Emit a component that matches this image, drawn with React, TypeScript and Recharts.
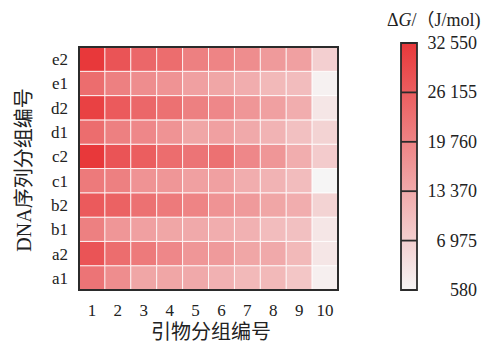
import { Bar, BarChart, Cell, ReferenceLine, XAxis, YAxis } from 'recharts';

// primer groups along x, DNA groups along y (bottom -> top)
const primers = ['1', '2', '3', '4', '5', '6', '7', '8', '9', '10'];
const groups = ['a1', 'a2', 'b1', 'b2', 'c1', 'c2', 'd1', 'd2', 'e1', 'e2'];

// ΔG (J/mol) per primer group, one array per DNA group
const a1 = [22320, 18160, 14010, 14010, 13370, 12090, 10810, 10810, 8570, 1540];
const a2 = [27750, 23600, 21360, 19120, 16570, 15930, 14010, 13370, 10810, 3140];
const b1 = [20400, 16570, 14970, 14010, 13370, 12730, 12090, 10170, 9530, 3140];
const b2 = [26800, 25520, 22960, 21360, 19760, 17200, 15930, 14010, 12730, 6330];
const c1 = [21360, 20400, 17200, 16570, 14970, 14970, 12730, 11770, 10170, 580];
const c2 = [32550, 27750, 26160, 23600, 22320, 22960, 19120, 16570, 12730, 7610];
const d1 = [23600, 20400, 19120, 17200, 14010, 14970, 13370, 11770, 9530, 6330];
const d2 = [30950, 26800, 24560, 22960, 20400, 19120, 16570, 14970, 12730, 3140];
const e1 = [23600, 20400, 18160, 17200, 14970, 14010, 12730, 10810, 10170, 1220];
const e2 = [32550, 27750, 24560, 23600, 20400, 19760, 18160, 15930, 14970, 6970];

const values: Record<string, number[]> = { a1, a2, b1, b2, c1, c2, d1, d2, e1, e2 };

const scaleTicks = [580, 6975, 13370, 19760, 26155, 32550];
const vMin = 580;
const vMax = 32550;

const serif = '"Liberation Serif", "DejaVu Serif", serif';
const cjk = '"Liberation Serif", "Noto Sans CJK SC", sans-serif';
const ink = '#2b2b2b';

const low = [246, 245, 245];
const high = [232, 56, 58];

function colorFor(v: number) {
  const t = Math.max(0, Math.min(1, (v - vMin) / (vMax - vMin)));
  const c = low.map((l, i) => Math.round(l + (high[i] - l) * t));
  return `rgb(${c[0]},${c[1]},${c[2]})`;
}

// each cell is one unit high in the stacked column
const table = primers.map((p) => {
  const row: Record<string, string | number> = { primer: p };
  groups.forEach((g) => (row[g] = 1));
  return row;
});

const fmt = (v: number) => String(v).replace(/\B(?=(\d{3})+(?!\d))/g, ' ');

const ScaleTick = (props: any) => {
  const { x, y, payload } = props;
  return (
    <text x={x + 52} y={y} textAnchor="end" dominantBaseline="central" fontSize={18} fill="#222" fontFamily={serif}>
      {fmt(payload.value)}
    </text>
  );
};

const tickStyle = { fontSize: 17, fill: '#222', fontFamily: serif };

export default function App() {
  return (
    <div style={{ position: 'absolute', left: 0, top: 0, width: 483, height: 343, background: '#fff' }}>
      <BarChart
        width={483}
        height={343}
        data={table}
        margin={{ top: 47, right: 145, bottom: 23, left: 39 }}
        barCategoryGap={0}
      >
        <XAxis
          dataKey="primer"
          height={30}
          axisLine={{ stroke: ink, strokeWidth: 1.6 }}
          tickLine={false}
          tick={tickStyle}
          tickMargin={8}
          interval={0}
        />
        <YAxis
          type="number"
          domain={[0, 10]}
          ticks={[0.5, 1.5, 2.5, 3.5, 4.5, 5.5, 6.5, 7.5, 8.5, 9.5]}
          tickFormatter={(v: number) => groups[Math.floor(v)]}
          width={40}
          axisLine={{ stroke: ink, strokeWidth: 1.6 }}
          tickLine={false}
          tick={tickStyle}
          tickMargin={5}
          interval={0}
        />
        {groups.map((g) => (
          <Bar key={g} dataKey={g} stackId="cells" isAnimationActive={false} stroke="#fff" strokeWidth={0.8}>
            {values[g].map((v, i) => (
              <Cell key={i} fill={colorFor(v)} />
            ))}
          </Bar>
        ))}
      </BarChart>

      {/* frame around the plot area */}
      <div
        style={{
          position: 'absolute',
          left: 78,
          top: 46,
          width: 261,
          height: 245,
          boxSizing: 'border-box',
          border: `2px solid ${ink}`,
          pointerEvents: 'none',
        }}
      />

      <div style={{ position: 'absolute', left: 380, top: 0 }}>
        <BarChart
          width={103}
          height={343}
          data={[{ name: 'scale', span: [vMin, vMax] }]}
          margin={{ top: 43, right: 0, bottom: 53, left: 21 }}
          barCategoryGap={0}
        >
          <defs>
            <linearGradient id="scaleGrad" x1="0" y1="0" x2="0" y2="1">
              <stop offset="0%" stopColor={colorFor(vMax)} />
              <stop offset="100%" stopColor={colorFor(vMin)} />
            </linearGradient>
          </defs>
          <XAxis dataKey="name" hide />
          <YAxis
            type="number"
            orientation="right"
            domain={[vMin, vMax]}
            ticks={scaleTicks}
            width={66}
            axisLine={false}
            tickLine={false}
            tick={<ScaleTick />}
            interval={0}
          />
          <Bar dataKey="span" fill="url(#scaleGrad)" stroke={ink} strokeWidth={1.8} isAnimationActive={false} />
          {scaleTicks.slice(1, -1).map((t) => (
            <ReferenceLine key={t} y={t} stroke={ink} strokeWidth={1.8} />
          ))}
        </BarChart>
      </div>

      <div
        style={{
          position: 'absolute',
          left: 387,
          top: 10,
          fontFamily: cjk,
          fontSize: 18,
          color: '#222',
          whiteSpace: 'nowrap',
          lineHeight: '20px',
        }}
      >
        Δ<i>G</i>/（J/mol)
      </div>

      <div
        style={{
          position: 'absolute',
          left: 211,
          top: 330,
          transform: 'translate(-50%, -50%)',
          fontFamily: cjk,
          fontSize: 20,
          color: '#222',
          whiteSpace: 'nowrap',
        }}
      >
        引物分组编号
      </div>

      <div
        style={{
          position: 'absolute',
          left: 22,
          top: 170,
          transform: 'translate(-50%, -50%) rotate(-90deg)',
          fontFamily: cjk,
          fontSize: 20,
          color: '#222',
          whiteSpace: 'nowrap',
        }}
      >
        DNA序列分组编号
      </div>
    </div>
  );
}
